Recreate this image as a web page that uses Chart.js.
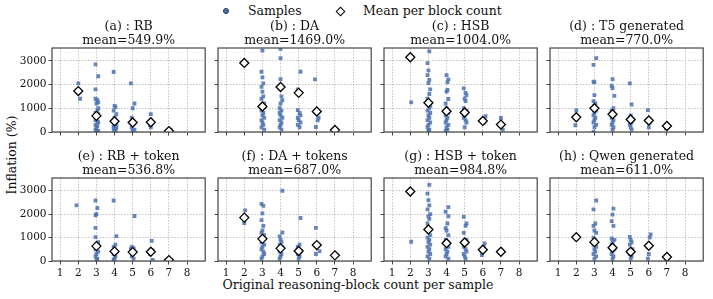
<!DOCTYPE html>
<html>
<head>
<meta charset="utf-8">
<script src="https://cdn.jsdelivr.net/npm/chart.js@4.4.1/dist/chart.umd.min.js"></script>
<style>
  body { margin: 0; width: 713px; height: 299px; background: #fff; position: relative; overflow: hidden;
         font-family: "DejaVu Serif", serif; color: #111; }
  canvas { position: absolute; }
  .txt { position: absolute; font-size: 12.5px; white-space: nowrap; line-height: 1; }
  .dot { position: absolute; width: 6px; height: 6px; border-radius: 50%; background: #4c72b0; border: 1px solid #22344f; box-sizing: border-box; }
  .dia { position: absolute; width: 7px; height: 7px; background: #fff; border: 1.3px solid #000; box-sizing: border-box; transform: rotate(45deg); }
</style>
</head>
<body>
<div class="dot" style="left:223px;top:8px"></div>
<div class="txt" style="left:248px;top:5px">Samples</div>
<div class="dia" style="left:337px;top:7.5px"></div>
<div class="txt" style="left:363px;top:5px">Mean per block count</div>
<div class="txt" style="left:12px;top:155px;transform:translate(-50%,-50%) rotate(-90deg)">Inflation (%)</div>
<div class="txt" style="left:358px;top:285px;transform:translate(-50%,-50%)">Original reasoning-block count per sample</div>

<script>
// panel titles
const titles = ['(a) : RB', '(b) : DA', '(c) : HSB', '(d) : T5 generated',
                '(e) : RB + token', '(f) : DA + tokens', '(g) : HSB + token', '(h) : Qwen generated'];
const meanLabels = ['mean=549.9%', 'mean=1469.0%', 'mean=1004.0%', 'mean=770.0%',
                    'mean=536.8%', 'mean=687.0%', 'mean=984.8%', 'mean=611.0%'];
const xTicks = [1, 2, 3, 4, 5, 6, 7, 8];
const yTicks = [0, 1000, 2000, 3000];

// samples: [block count (jittered), inflation %]
const samplesA = [[2.0,2050],[2.1,1400],
  [2.95,2850],[3.1,2350],[2.95,1800],[2.95,1400],[3.05,1350],[3.1,1250],[3.0,1200],[3.1,1000],[3.05,900],[2.95,800],[3.1,750],[3.0,600],[2.95,500],[3.05,450],[3.1,400],[2.95,300],[3.05,250],[3.0,200],[2.95,100],[3.1,50],[3.0,20],
  [3.95,2530],[4.0,1100],[4.05,1050],[3.95,900],[4.1,750],[4.0,600],[3.95,500],[4.05,400],[4.1,300],[3.95,250],[4.0,200],[4.1,150],[3.95,100],[4.05,50],
  [4.9,2050],[5.1,1200],[5.0,1000],[4.95,600],[5.05,350],[4.95,200],[5.1,100],[5.0,50],
  [6.0,750],[6.0,500],[5.95,300],[6.0,200],
  [7.1,100],[7.05,50]];
const meansA = [[2,1725],[3,680],[4,455],[5,400],[6,410],[7,40]];

const samplesB = [
  [3.0,3430],[2.95,2540],[3.0,2300],[3.05,2050],[2.95,1900],[3.0,1700],[3.05,1500],[2.95,1400],[3.1,1200],[3.0,1000],[2.95,900],[3.05,800],[3.0,700],[3.1,600],[2.95,500],[3.0,400],[3.05,300],[2.95,200],[3.1,100],
  [4.0,3500],[4.0,3110],[4.0,2230],[4.05,1500],[4.1,1340],[4.0,1200],[3.95,1000],[4.05,900],[3.95,800],[4.0,700],[4.1,600],[3.95,500],[4.05,400],[4.0,300],[3.95,200],[4.05,100],
  [5.1,2540],[4.95,1800],[5.0,1700],[4.95,920],[5.05,800],[5.1,700],[4.95,600],[5.0,500],[5.1,400],[4.95,300],[5.05,200],
  [5.9,2220],[6.1,600],[6.05,490],[5.95,210]];
const meansB = [[2,2910],[3,1075],[4,1895],[5,1650],[6,865],[7,85]];

const samplesC = [[2.05,1245],
  [3.05,3400],[2.95,2900],[3.0,2600],[2.95,2400],[3.05,2200],[3.0,2060],[3.1,1800],[3.05,1600],[2.95,1400],[3.0,1300],[3.1,1100],[3.05,1000],[2.95,900],[3.1,800],[3.0,700],[3.05,600],[2.95,500],[3.1,400],[3.0,300],[2.95,200],[3.05,100],[3.0,50],
  [4.0,2400],[4.1,2220],[4.05,2100],[4.05,1770],[4.0,1700],[4.1,1390],[3.95,1200],[4.0,1000],[4.1,800],[3.95,700],[4.05,600],[4.0,500],[3.95,400],[4.1,300],[4.0,200],[4.05,100],[3.95,50],
  [4.95,1840],[5.05,1650],[5.1,1555],[5.0,1400],[5.05,1300],[4.95,1000],[5.1,900],[5.0,700],[4.95,600],[5.05,500],[5.1,400],[5.0,200],
  [6.15,665],[6.1,500],[6.05,400],
  [7.0,590],[7.1,100]];
const meansC = [[2,3150],[3,1230],[4,877],[5,820],[6,466],[7,313]];

const samplesD = [[2.0,915],[1.95,284],
  [3.1,3110],[2.95,2830],[2.95,2120],[3.0,2100],[3.0,1555],[2.95,1300],[3.05,1200],[3.0,1100],[2.95,1000],[3.1,900],[3.0,800],[2.95,700],[3.05,600],[3.0,500],[2.95,400],[3.1,300],[3.0,200],[2.95,0],
  [4.0,2230],[3.95,1950],[4.0,1850],[4.1,1525],[4.05,1000],[3.95,900],[4.0,800],[4.1,700],[3.95,600],[4.05,500],[4.0,400],[3.95,300],[4.05,200],[4.0,100],
  [4.95,2050],[5.05,1160],[5.0,700],[4.95,600],[5.1,500],[5.05,400],[4.95,300],[5.0,200],[5.05,100],
  [5.95,920],[6.05,400],[6.0,200],
  [6.95,150]];
const meansD = [[2,623],[3,1004],[4,750],[5,525],[6,483],[7,254]];

const samplesE = [[1.9,2370],
  [2.95,2580],[3.05,2260],[3.0,2000],[2.95,1950],[2.95,1410],[2.95,1020],[3.1,800],[3.0,700],[3.05,600],[2.95,500],[3.1,400],[3.0,300],[2.95,200],[3.05,100],[3.0,50],
  [3.95,2580],[4.1,1060],[4.05,700],[3.95,600],[4.0,500],[4.1,400],[3.95,300],[4.05,200],[4.0,100],[3.95,50],
  [5.1,1920],[4.95,600],[5.05,550],[4.9,500],[5.1,400],[5.0,300],[4.95,200],[5.05,100],
  [6.05,860],[6.1,450],[5.95,300],[6.1,50],
  [7.0,40]];
const meansE = [[3,635],[4,410],[5,380],[6,395],[7,40]];

const samplesF = [[2.05,2160],[2.0,1620],
  [2.95,2440],[3.05,2350],[3.0,2030],[2.95,1740],[3.05,1500],[3.0,1300],[2.95,1200],[3.1,1100],[3.0,1000],[3.05,900],[2.95,800],[3.1,700],[3.0,600],[2.95,500],[3.05,400],[3.1,300],[3.0,200],[2.95,100],
  [4.1,2995],[4.1,1215],[3.95,1050],[4.0,900],[4.05,800],[3.95,700],[4.1,600],[4.0,500],[3.95,400],[4.05,300],[4.0,200],[3.95,100],
  [5.1,1835],[5.05,700],[4.95,600],[5.0,500],[5.1,400],[4.95,300],[5.05,200],[5.0,100],
  [5.95,1410],[6.15,425],[5.95,300]];
const meansF = [[2,1850],[3,945],[4,540],[5,425],[6,680],[7,240]];

const samplesG = [[2.05,820],
  [3.05,3250],[2.95,2870],[3.0,2600],[3.05,2370],[2.95,2200],[3.1,2000],[3.0,1900],[3.05,1800],[2.95,1600],[3.0,1300],[3.1,1100],[2.95,1000],[3.05,900],[3.0,800],[3.1,700],[2.95,600],[3.05,500],[3.0,400],[3.1,300],[2.95,200],[3.05,100],
  [4.1,2300],[3.95,2100],[4.1,1910],[4.05,1600],[3.95,1400],[4.0,1300],[4.1,1100],[3.95,900],[4.05,800],[4.0,700],[4.1,600],[3.95,500],[4.05,400],[4.0,300],[3.95,200],[4.1,100],
  [4.95,1880],[5.1,1600],[5.05,1500],[4.95,1200],[5.1,900],[5.0,800],[4.95,600],[5.05,500],[5.1,400],[4.95,300],[5.0,200],[5.05,100],
  [6.1,750],[6.05,600],[6.0,500],[5.95,250],
  [7.05,400]];
const meansG = [[2,2965],[3,1345],[4,760],[5,790],[6,480],[7,395]];

const samplesH = [
  [3.1,2580],[2.95,2200],[3.05,1600],[2.95,1500],[3.0,1300],[3.1,1200],[2.95,1000],[3.05,900],[3.0,800],[2.95,700],[3.1,600],[3.0,500],[3.05,400],[2.95,300],[3.1,200],[3.0,100],
  [4.05,2230],[4.0,1980],[3.95,1700],[4.05,1500],[3.95,960],[4.1,900],[4.0,800],[3.95,700],[4.05,600],[4.1,500],[4.0,400],[3.95,300],[4.05,200],[4.0,100],
  [4.95,1030],[5.0,900],[5.05,800],[4.95,700],[5.1,500],[5.0,400],[4.95,300],[5.05,200],[5.0,100],
  [6.1,1130],[6.05,1000],[5.95,600],[6.0,300],[5.95,100],
  [7.0,200],[6.95,100]];
const meansH = [[2,1015],[3,805],[4,565],[5,395],[6,650],[7,170]];

const samples = [samplesA, samplesB, samplesC, samplesD, samplesE, samplesF, samplesG, samplesH];
const means = [meansA, meansB, meansC, meansD, meansE, meansF, meansG, meansH];

const FONT = '"DejaVu Serif", serif';
const AXW = 48;

// draws the box round each plot
const frame = {
  id: 'frame',
  afterDraw(chart) {
    const a = chart.chartArea, ctx = chart.ctx;
    ctx.save();
    ctx.strokeStyle = '#444';
    ctx.lineWidth = 1.2;
    ctx.strokeRect(a.left, a.top, a.right - a.left, a.bottom - a.top);
    ctx.restore();
  }
};

const toXY = arr => arr.map(p => ({ x: p[0], y: p[1] }));

for (let i = 0; i < 8; i++) {
  const col = i % 4, row = Math.floor(i / 4);
  const plotLeft = 52 + col * 166;
  const top = row === 0 ? 14 : 144;
  const bottom = row === 0 ? 144 : 281;
  const cv = document.createElement('canvas');
  cv.width = AXW + 155 + 4;
  cv.height = bottom - top;
  cv.style.left = (plotLeft - AXW) + 'px';
  cv.style.top = top + 'px';
  document.body.appendChild(cv);

  new Chart(cv.getContext('2d'), {
    type: 'scatter',
    data: {
      datasets: [
        {
          label: 'Mean per block count',
          data: toXY(means[i]),
          pointStyle: 'rectRot',
          pointRadius: 4.5,
          backgroundColor: '#fff',
          borderColor: '#000',
          borderWidth: 1.3,
          order: 0
        },
        {
          label: 'Samples',
          data: toXY(samples[i]),
          pointStyle: 'rect',
          pointRadius: 2.7,
          backgroundColor: 'rgba(76,114,176,0.85)',
          borderWidth: 0,
          order: 1
        }
      ]
    },
    options: {
      responsive: false,
      animation: false,
      events: [],
      layout: { padding: { left: 0, right: 4, top: 0, bottom: 0 } },
      plugins: {
        legend: { display: false },
        tooltip: { enabled: false },
        title: {
          display: true,
          fullSize: false,
          text: [titles[i], meanLabels[i]],
          color: '#111',
          font: { family: FONT, size: 12.5, weight: 'normal', lineHeight: 1.16 },
          padding: { top: 5, bottom: 0 }
        }
      },
      scales: {
        x: {
          type: 'linear',
          min: 0.55,
          max: 9.0,
          afterBuildTicks: s => { s.ticks = xTicks.map(v => ({ value: v })); },
          afterFit: s => { s.height = row === 1 ? 20 : 12; },
          ticks: { display: row === 1, color: '#111', padding: 2, font: { family: FONT, size: 10.5 },
                   callback: v => String(v) },
          grid: { color: '#b5b5b5', lineWidth: 0.8, tickColor: '#444', tickLength: 3.5, tickWidth: 1, tickBorderDash: [] },
          border: { display: false, dash: [1.5, 1.5] }
        },
        y: {
          min: 0,
          max: 3540,
          afterBuildTicks: s => { s.ticks = yTicks.map(v => ({ value: v })); },
          afterFit: s => { s.width = AXW; },
          ticks: { display: col === 0, color: '#111', padding: 2, font: { family: FONT, size: 10.5 },
                   callback: v => String(v) },
          grid: { color: '#b5b5b5', lineWidth: 0.8, tickColor: '#444', tickLength: 3.5, tickWidth: 1, tickBorderDash: [] },
          border: { display: false, dash: [1.5, 1.5] }
        }
      }
    },
    plugins: [frame]
  });
}
</script>
</body>
</html>
